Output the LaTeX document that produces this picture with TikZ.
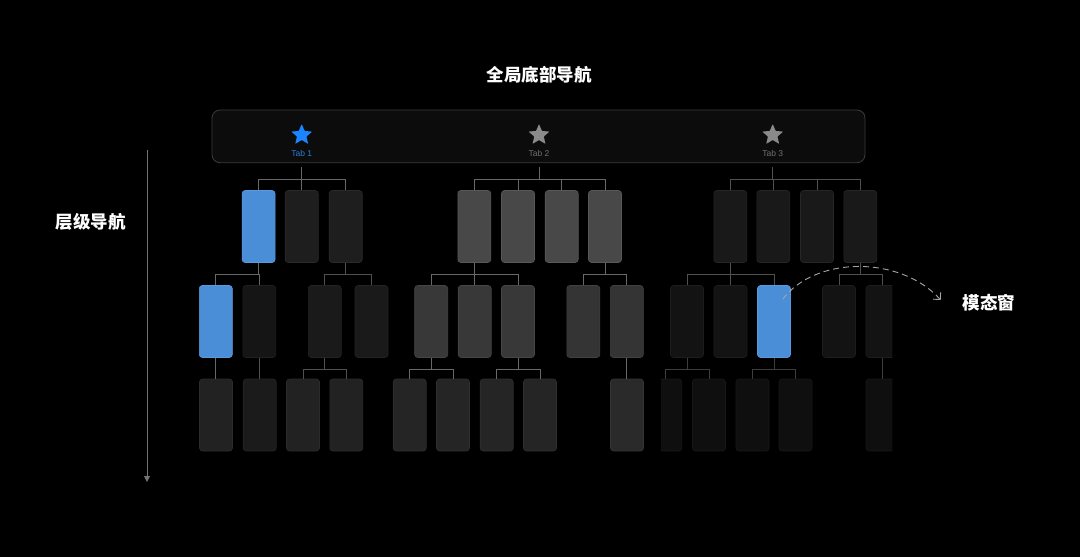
\documentclass[tikz,border=0pt]{standalone}
\usepackage{fontspec}
\setmainfont{Liberation Sans}
\newfontfamily\cjk{Noto Sans CJK SC}
\usetikzlibrary{shapes.geometric,arrows.meta}
\definecolor{boxblue}{HTML}{4A8ED8}
\definecolor{boxblueb}{HTML}{5A9BE0}
\definecolor{tabblue}{HTML}{1A85FF}
\definecolor{tabbluet}{HTML}{2C7BD6}
\definecolor{tabgray}{HTML}{8A8A8A}
\definecolor{tabgrayt}{HTML}{707070}
\definecolor{barfill}{HTML}{0C0C0C}
\definecolor{barline}{HTML}{3C3C3C}
\definecolor{connA}{HTML}{686868}
\definecolor{connB}{HTML}{505050}
\definecolor{connC}{HTML}{3C3C3C}
\tikzset{
  scr/.style={rectangle, rounded corners=3pt, minimum width=33pt, minimum height=72pt, inner sep=0pt, line width=0.6pt},
  bluebox/.style={scr, fill=boxblue, draw=boxblueb},
  dA/.style={scr, fill={rgb,255:red,30;green,30;blue,30}, draw={rgb,255:red,42;green,42;blue,42}},
  dB/.style={scr, fill={rgb,255:red,25;green,25;blue,25}, draw={rgb,255:red,38;green,38;blue,38}},
  gA/.style={scr, fill={rgb,255:red,72;green,72;blue,72}, draw={rgb,255:red,88;green,88;blue,88}},
  gB/.style={scr, fill={rgb,255:red,56;green,56;blue,56}, draw={rgb,255:red,70;green,70;blue,70}},
  gC/.style={scr, fill={rgb,255:red,52;green,52;blue,52}, draw={rgb,255:red,66;green,66;blue,66}},
  dC/.style={scr, fill={rgb,255:red,21;green,21;blue,21}, draw={rgb,255:red,32;green,32;blue,32}},
  dD/.style={scr, fill={rgb,255:red,26;green,26;blue,26}, draw={rgb,255:red,36;green,36;blue,36}},
  dE/.style={scr, fill={rgb,255:red,19;green,19;blue,19}, draw={rgb,255:red,29;green,29;blue,29}},
  dF/.style={scr, fill={rgb,255:red,34;green,34;blue,34}, draw={rgb,255:red,44;green,44;blue,44}},
  dG/.style={scr, fill={rgb,255:red,27;green,27;blue,27}, draw={rgb,255:red,38;green,38;blue,38}},
  dH/.style={scr, fill={rgb,255:red,37;green,37;blue,37}, draw={rgb,255:red,47;green,47;blue,47}},
  dI/.style={scr, fill={rgb,255:red,42;green,42;blue,42}, draw={rgb,255:red,53;green,53;blue,53}},
  dJ/.style={scr, fill={rgb,255:red,15;green,15;blue,15}, draw={rgb,255:red,25;green,25;blue,25}},
  conn/.style={draw=connA, line width=0.9pt},
  connd/.style={draw=connB, line width=0.9pt},
  conne/.style={draw=connC, line width=0.9pt},
  tabstar/.style={star, star points=5, star point ratio=2.2, minimum size=22pt, inner sep=0pt, rounded corners=0.6pt},
  tablabel/.style={font=\fontsize{8.5}{10}\selectfont, inner sep=0pt},
  cjklabel/.style={font=\cjk\bfseries\fontsize{17.5}{20}\selectfont, text=white, inner sep=0pt},
}
\begin{document}
\begin{tikzpicture}[x=1pt,y=-1pt]
\fill[black] (0,0) rectangle (1080,557);
\useasboundingbox (0,0) rectangle (1080,557);

% titles
\node[cjklabel] (title) at (539,75) {全局底部导航};
\node[cjklabel] (lh) at (91,222) {层级导航};
\node[cjklabel] (lm) at (989,303) {模态窗};

% tab bar
\node[rectangle, rounded corners=8pt, minimum width=653pt, minimum height=52.7pt, inner sep=0pt, fill=barfill, draw=barline, line width=0.8pt] (bar) at (538.5,136.35) {};
\node[tabstar, fill=tabblue] (s1) at (301.7,135) {};
\node[tabstar, fill=tabgray] (s2) at (539,135) {};
\node[tabstar, fill=tabgray] (s3) at (772.7,135) {};
\node[tablabel, text=tabbluet] (l1) at (301.7,153.5) {Tab 1};
\node[tablabel, text=tabgrayt] (l2) at (539,153.5) {Tab 2};
\node[tablabel, text=tabgrayt] (l3) at (772.7,153.5) {Tab 3};

% left vertical arrow
\coordinate (va) at (147,150);
\coordinate (vb) at (147,482);
\draw[line width=1pt, draw={rgb,255:red,115;green,115;blue,115}, -{Triangle[length=6pt,width=6pt]}] (va) -- (vb);

% row 1
\node[bluebox] (r1a) at (258.6,226.5) {};
\node[dA] (r1b) at (301.7,226.5) {};
\node[dA] (r1c) at (345.7,226.5) {};
\node[gA] (r1d) at (474.3,226.5) {};
\node[gA] (r1e) at (518,226.5) {};
\node[gA] (r1f) at (561.7,226.5) {};
\node[gA] (r1g) at (605,226.5) {};
\node[dB] (r1h) at (730.3,226.5) {};
\node[dB] (r1i) at (773.3,226.5) {};
\node[dB] (r1j) at (817,226.5) {};
\node[dB] (r1k) at (860.3,226.5) {};

% row 2
\node[bluebox] (r2a) at (215.8,321.5) {};
\node[dC] (r2b) at (259.3,321.5) {};
\node[dD] (r2c) at (324.8,321.5) {};
\node[dD] (r2d) at (371.5,321.5) {};
\node[gB] (r2e) at (431.2,321.5) {};
\node[gB] (r2f) at (474.7,321.5) {};
\node[gB] (r2g) at (518,321.5) {};
\node[gC] (r2h) at (583.3,321.5) {};
\node[gC] (r2i) at (626.8,321.5) {};
\node[dE] (r2j) at (687,321.5) {};
\node[dE] (r2k) at (730.5,321.5) {};
\node[bluebox] (r2l) at (774,321.5) {};
\node[dE] (r2m) at (839,321.5) {};
\begin{scope}
\clip (0,0) rectangle (892.3,557);
\node[dE] (r2n) at (882.5,321.5) {};
\node[dJ] (r3n) at (882.5,415) {};
\end{scope}

% row 3
\node[dF] (r3a) at (216,415) {};
\node[dG] (r3b) at (259.7,415) {};
\node[dF] (r3c) at (303,415) {};
\node[dF] (r3d) at (346.3,415) {};
\node[dH] (r3e) at (409.7,415) {};
\node[dH] (r3f) at (453,415) {};
\node[dH] (r3g) at (496.7,415) {};
\node[dH] (r3h) at (540,415) {};
\node[dI] (r3i) at (627,415) {};
\begin{scope}
\clip (661,0) rectangle (1080,557);
\node[dJ] (r3j) at (665.3,415) {};
\end{scope}
\node[dJ] (r3k) at (709,415) {};
\node[dJ] (r3l) at (752.5,415) {};
\node[dJ] (r3m) at (795.5,415) {};

% connectors: tab bar -> row 1
\coordinate (t1) at (301.7,167);
\coordinate (t2) at (539,167);
\coordinate (t3) at (772.7,167);
\foreach \c in {r1a,r1b,r1c} \draw[conn] (t1) -- ++(0,12) -| (\c.north);
\foreach \c in {r1d,r1e,r1f,r1g} \draw[conn] (t2) -- ++(0,12) -| (\c.north);
\foreach \c in {r1h,r1i,r1j,r1k} \draw[connd] (t3) -- ++(0,12) -| (\c.north);

% row 1 -> row 2
\foreach \c in {r2a,r2b} \draw[conn] (r1a.south) -- ++(0,12) -| (\c.north);
\foreach \c in {r2c,r2d} \draw[connd] (r1c.south) -- ++(0,12) -| (\c.north);
\foreach \c in {r2e,r2f,r2g} \draw[conn] (r1d.south) -- ++(0,12) -| (\c.north);
\foreach \c in {r2h,r2i} \draw[conn] (r1g.south) -- ++(0,12) -| (\c.north);
\foreach \c in {r2j,r2k,r2l} \draw[connd] (r1h.south) -- ++(0,12) -| (\c.north);
\foreach \c in {r2m,r2n} \draw[connd] (r1k.south) -- ++(0,12) -| (\c.north);

% row 2 -> row 3
\draw[conn] (r2a.south) -- (r2a.south |- r3a.north);
\draw[connd] (r2b.south) -- (r2b.south |- r3b.north);
\foreach \c in {r3c,r3d} \draw[connd] (r2c.south) -- ++(0,11.5) -| (\c.north);
\foreach \c in {r3e,r3f} \draw[conn] (r2e.south) -- ++(0,11.5) -| (\c.north);
\foreach \c in {r3g,r3h} \draw[conn] (r2g.south) -- ++(0,11.5) -| (\c.north);
\draw[conn] (r2i.south) -- (r2i.south |- r3i.north);
\foreach \c in {r3j,r3k} \draw[conne] (r2j.south) -- ++(0,11.5) -| (\c.north);
\foreach \c in {r3l,r3m} \draw[conne] (r2l.south) -- ++(0,11.5) -| (\c.north);
\draw[conne] (r2n.south) -- (r2n.south |- r3n.north);

% modal dashed arc
\coordinate (ms) at (782.7,299.3);
\coordinate (me) at (940.7,300);
\draw[draw={rgb,255:red,165;green,165;blue,165}, line width=0.9pt, dash pattern=on 6pt off 4pt, -{Straight Barb[length=5pt,width=10pt]}] (ms) .. controls (815,256) and (900,255) .. (me);
\end{tikzpicture}
\end{document}
